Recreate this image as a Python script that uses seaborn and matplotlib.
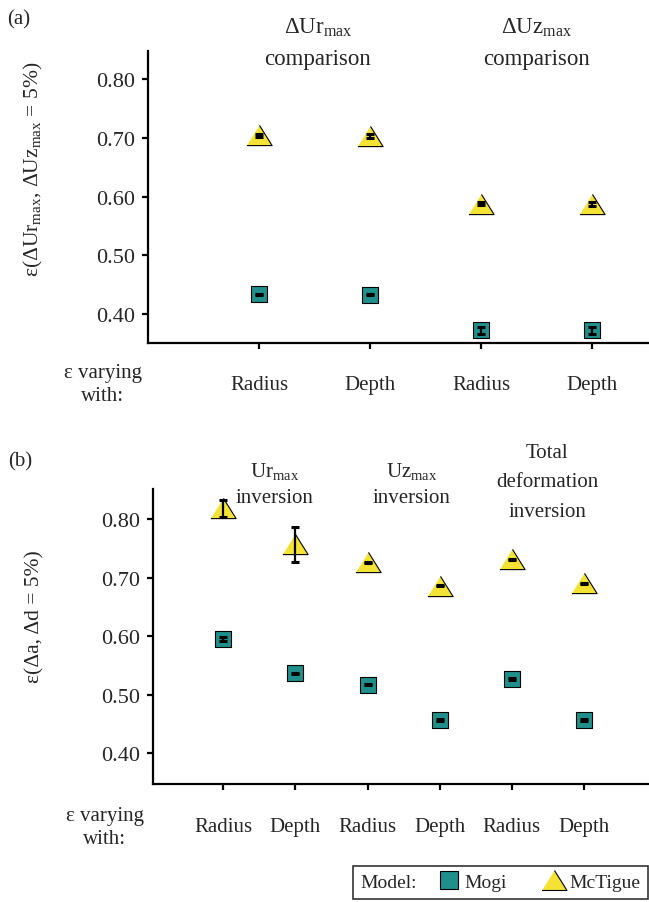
import matplotlib
matplotlib.use("Agg")
import matplotlib.pyplot as plt
from matplotlib.lines import Line2D
from matplotlib.offsetbox import HPacker
import numpy as np
import pandas as pd
import seaborn as sns

# ---- data ----
models = ["Mogi", "McTigue"]

# panel (a)
cats_a = ["Radius", "Depth", "Radius", "Depth"]
mogi_a = [0.434, 0.433, 0.373, 0.373]
mogi_a_err = [0.001, 0.001, 0.006, 0.006]
mct_a = [0.704, 0.703, 0.588, 0.587]
mct_a_err = [0.003, 0.003, 0.003, 0.003]
groups_a = [["$\\mathrm{\\Delta Ur_{max}}$", "comparison"],
            ["$\\mathrm{\\Delta Uz_{max}}$", "comparison"]]

# panel (b)
cats_b = ["Radius", "Depth", "Radius", "Depth", "Radius", "Depth"]
mogi_b = [0.595, 0.537, 0.517, 0.457, 0.527, 0.457]
mogi_b_err = [0.003, 0.001, 0.001, 0.001, 0.001, 0.001]
mct_b = [0.818, 0.757, 0.726, 0.686, 0.731, 0.690]
mct_b_err = [0.015, 0.030, 0.001, 0.001, 0.001, 0.001]
groups_b = [["$\\mathrm{Ur_{max}}$", "inversion"],
            ["$\\mathrm{Uz_{max}}$", "inversion"],
            ["Total", "deformation", "inversion"]]

yticks = [0.40, 0.50, 0.60, 0.70, 0.80]
colors = {"Mogi": "#218F8B", "McTigue": "#F4E234"}
tri = [(-1.25, -1.0), (1.25, -1.0), (0.0, 1.0)]
markers = {"Mogi": "s", "McTigue": tri}
sizes = {"Mogi": 120, "McTigue": 330}

sns.set_style("ticks")
plt.rcParams["font.family"] = ["Liberation Serif", "DejaVu Serif"]
plt.rcParams["mathtext.fontset"] = "custom"
plt.rcParams["mathtext.rm"] = "Liberation Serif"
plt.rcParams["mathtext.it"] = "Liberation Serif:italic"

fig = plt.figure(figsize=(6.49, 9.03), dpi=100)
ax_a = fig.add_axes([0.228, 0.619, 0.772, 0.3237])
ax_b = fig.add_axes([0.235, 0.1307, 0.765, 0.3267])


def draw_panel(ax, cats, mogi, mogi_err, mct, mct_err, ylim, xlim, pad):
    x = np.arange(len(cats))
    df = pd.DataFrame({
        "x": np.concatenate([x, x]),
        "y": mogi + mct,
        "model": ["Mogi"] * len(x) + ["McTigue"] * len(x),
    })
    for m in models:
        sub = df[df["model"] == m]
        sns.scatterplot(data=sub, x="x", y="y", ax=ax, marker=markers[m],
                        s=sizes[m], color=colors[m], edgecolor="black",
                        linewidth=0.8, legend=False, zorder=3)
    for vals, errs in [(mogi, mogi_err), (mct, mct_err)]:
        ax.errorbar(x, vals, yerr=errs, fmt="none", ecolor="black",
                    elinewidth=1.6, capsize=3, capthick=2.2, zorder=5)
    ax.set_xlim(*xlim)
    ax.set_ylim(*ylim)
    ax.set_xticks(x)
    ax.set_xticklabels(cats, fontsize=15)
    ax.set_yticks(yticks)
    ax.set_yticklabels(["%.2f" % v for v in yticks], fontsize=16)
    ax.set_xlabel("")
    ax.set_ylabel("")
    sns.despine(ax=ax)
    for s in ["left", "bottom"]:
        ax.spines[s].set_linewidth(1.6)
        ax.spines[s].set_color("black")
    ax.tick_params(axis="both", length=4, width=1.6, color="black")
    ax.tick_params(axis="x", pad=pad)
    ax.tick_params(axis="y", pad=5)


draw_panel(ax_a, cats_a, mogi_a, mogi_a_err, mct_a, mct_a_err,
           (0.351, 0.848), (-1.0, 3.51), 19)
draw_panel(ax_b, cats_b, mogi_b, mogi_b_err, mct_b, mct_b_err,
           (0.348, 0.851), (-0.98, 5.9), 20)

ax_a.set_ylabel("ε(ΔUr$_{\\mathrm{max}}$, ΔUz$_{\\mathrm{max}}$ = 5%)", fontsize=15.5)
ax_a.yaxis.set_label_coords(-0.206, 0.596)
ax_b.set_ylabel("ε(Δa, Δd = 5%)", fontsize=15.5)
ax_b.yaxis.set_label_coords(-0.217, 0.57)

# group headers
tr = ax_a.get_xaxis_transform()
for xc, lines in zip([0.53, 2.5], groups_a):
    for yy, t in zip([1.081, 0.975], lines):
        ax_a.text(xc, yy, t, transform=tr, ha="center", va="center", fontsize=16.5)

tr = ax_b.get_xaxis_transform()
head_y = [[1.062, 0.972], [1.062, 0.972], [1.125, 1.025, 0.923]]
for xc, lines, ys in zip([0.71, 2.61, 4.49], groups_b, head_y):
    for yy, t in zip(ys, lines):
        ax_b.text(xc, yy, t, transform=tr, ha="center", va="center", fontsize=15)

fig.text(19 / 649, 1 - 20 / 903, "(a)", ha="center", va="center", fontsize=15)
fig.text(20 / 649, 1 - 462 / 903, "(b)", ha="center", va="center", fontsize=15)
fig.text(103 / 649, 1 - 385 / 903, "ε varying\nwith:", ha="center", va="center",
         fontsize=15, linespacing=1.3)
fig.text(105 / 649, 1 - 828 / 903, "ε varying\nwith:", ha="center", va="center",
         fontsize=15, linespacing=1.3)

handles = [Line2D([], [], ls="none", marker=markers[m], markersize=12.5 if m == "Mogi" else 18,
                  markerfacecolor=colors[m], markeredgecolor="black", markeredgewidth=0.8)
           for m in models]
leg = fig.legend(handles, models, title="Model:", ncol=2, loc="lower right",
                 bbox_to_anchor=(648 / 649, 3 / 903), fontsize=14, title_fontsize=14,
                 frameon=True, fancybox=False, edgecolor="black",
                 handlelength=1.3, handletextpad=0.15, columnspacing=1.75,
                 borderpad=0.4, borderaxespad=0)
leg.get_frame().set_linewidth(1.2)
old = leg._legend_box
leg._legend_box = HPacker(pad=old.pad, sep=14, align="center",
                          children=[leg._legend_title_box, leg._legend_handle_box])
leg._legend_box.set_figure(fig)
leg._legend_box.axes = leg.axes
leg._legend_box.set_offset(leg._findoffset)

fig.savefig("out.png", dpi=100)
